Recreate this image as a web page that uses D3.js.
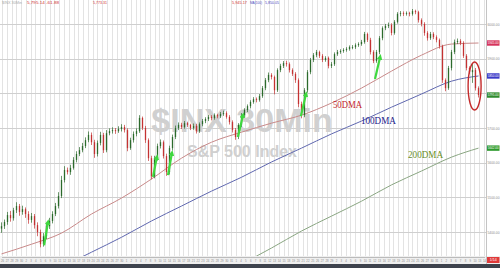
<!DOCTYPE html>
<html lang="en">
<head>
<meta charset="UTF-8">
<title>$INX 30Min</title>
<script src="https://cdn.jsdelivr.net/npm/d3@7"></script>
<style>
  html, body { margin: 0; padding: 0; background: #fff; overflow: hidden; }
  svg { display: block; }
</style>
</head>
<body>
<svg id="chart" width="500" height="268"></svg>
<script>
// condensed 30-min candles, open = previous close
const firstOpen = 5410;
const closes = [
  5417,5429,5449,5440,5463,5475,5458,5466,5452,5435,
  5446,5420,5400,5365,5388,5417,5432,5452,5475,5504,
  5550,5579,5573,5585,5608,5625,5636,5648,5665,5680,
  5659,5625,5657,5680,5636,5685,5691,5694,5691,5697,
  5703,5694,5642,5665,5683,5691,5729,5700,5665,5613,
  5561,5613,5648,5659,5619,5573,5642,5674,5700,5709,
  5703,5714,5709,5700,5706,5691,5711,5720,5726,5732,
  5729,5737,5734,5740,5743,5732,5717,5694,5674,5709,
  5737,5752,5763,5775,5783,5781,5792,5815,5838,5853,
  5847,5809,5867,5879,5887,5884,5867,5856,5838,5769,
  5737,5809,5861,5896,5910,5919,5908,5896,5902,5879,
  5884,5913,5919,5922,5925,5928,5933,5933,5939,5942,
  5948,5971,5954,5919,5893,5919,5959,5988,5994,5997,
  5974,6006,6029,6031,6029,6031,6029,6037,6034,6011,
  6000,5974,5959,5971,5962,5954,5936,5838,5815,5873,
  5919,5948,5951,5945,5908,5873,5861,5867,5815,5795
];
const highs = [
  5428,5436,5458,5461,5470,5486,5481,5476,5471,5460,
  5455,5452,5428,5407,5397,5425,5441,5460,5484,5515,
  5562,5590,5586,5594,5616,5633,5645,5657,5673,5690,
  5687,5666,5664,5689,5686,5694,5699,5702,5700,5705,
  5711,5709,5699,5672,5690,5699,5737,5733,5706,5670,
  5620,5620,5655,5667,5664,5626,5649,5681,5707,5716,
  5715,5720,5718,5712,5713,5712,5716,5726,5731,5738,
  5737,5742,5741,5746,5750,5748,5737,5722,5700,5714,
  5743,5757,5768,5780,5789,5788,5798,5821,5844,5860,
  5858,5851,5872,5885,5893,5894,5889,5872,5861,5843,
  5776,5815,5867,5902,5916,5925,5923,5913,5907,5906,
  5890,5918,5925,5927,5930,5933,5938,5939,5944,5947,
  5954,5977,5975,5960,5924,5925,5965,5993,6000,6004,
  6002,6011,6034,6037,6036,6036,6035,6043,6041,6038,
  6016,6005,5979,5977,5976,5967,5958,5940,5843,5879,
  5925,5955,5958,5956,5950,5913,5878,5885,5873,5820
];
const lows = [
  5398,5409,5421,5430,5433,5455,5447,5450,5441,5424,
  5427,5410,5388,5356,5358,5380,5409,5425,5446,5468,
  5498,5543,5566,5565,5580,5601,5619,5630,5642,5659,
  5651,5614,5618,5650,5628,5630,5679,5684,5683,5686,
  5690,5687,5633,5637,5658,5676,5686,5694,5657,5605,
  5552,5555,5606,5641,5612,5562,5566,5635,5668,5694,
  5697,5698,5703,5694,5695,5684,5686,5705,5714,5720,
  5722,5724,5728,5729,5735,5727,5710,5687,5666,5668,
  5703,5731,5746,5757,5770,5774,5776,5787,5809,5832,
  5840,5797,5804,5861,5873,5877,5860,5850,5830,5760,
  5728,5731,5802,5855,5890,5904,5902,5890,5891,5872,
  5873,5879,5908,5914,5917,5920,5923,5927,5928,5934,
  5937,5943,5948,5912,5887,5888,5913,5953,5982,5988,
  5967,5969,6001,6022,6023,6024,6022,6024,6028,6004,
  5993,5966,5952,5954,5956,5947,5929,5830,5806,5810,
  5866,5913,5942,5939,5902,5866,5855,5830,5808,5788
];

// moving averages sampled at these candle indices
const maIdx = [0,10,20,30,40,50,60,70,80,90,100,110,120,130,140,150,159];
const ma50  = [5337,5365,5397,5452,5498,5553,5613,5659,5688,5714,5737,5772,5815,5864,5910,5942,5945];
const ma100 = [null,null,5299,5342,5385,5432,5475,5518,5558,5602,5642,5683,5720,5760,5798,5835,5850];
const ma200 = [null,null,null,null,null,null,null,null,5308,5354,5403,5446,5489,5536,5576,5616,5642];

const priceTicks = [5400,5500,5600,5700,5800,5900,6000];

// green bounce arrows: [fromIdx, fromPrice, toIdx, toPrice]
const arrows = [
  [14.2,5362,15.5,5429],
  [50.5,5559,51.8,5616],
  [55.5,5564,56.8,5628],
  [78.8,5674,80.5,5737],
  [99.8,5734,101.5,5798],
  [124.5,5841,126.2,5905]
];

const maLabels = [
  { text: '50DMA',  idx: 110.5, price: 5758, color: '#c41e2a', len: 29 },
  { text: '100DMA', idx: 119.8, price: 5711, color: '#1c1c8c', len: 35 },
  { text: '200DMA', idx: 135.5, price: 5613, color: '#6a8f1f', len: 35 }
];

const svg = d3.select('#chart');
const plotR = 486, plotB = 256;

const x = d3.scaleLinear().domain([0, closes.length - 1]).range([1.5, 478.5]);
const y = d3.scaleLinear().domain([5331, 6069]).range([plotB, 0]);

// trading days for the date grid
const days = d3.timeDay.range(new Date(2024, 7, 26), new Date(2025, 0, 15))
  .filter(d => d.getDay() % 6 !== 0);
const xd = d3.scalePoint().domain(days).range([2, 484]);

svg.append('defs').append('clipPath').attr('id', 'plot')
  .append('rect').attr('width', plotR).attr('height', plotB);

// grid
const grid = svg.append('g');
grid.selectAll('line.v').data(days).enter().append('line')
  .attr('x1', d => Math.round(xd(d)) + 0.5).attr('x2', d => Math.round(xd(d)) + 0.5)
  .attr('y1', 0).attr('y2', plotB)
  .attr('stroke', '#e3e3e3').attr('stroke-width', 1);
grid.selectAll('line.h').data(priceTicks).enter().append('line')
  .attr('x1', 0).attr('x2', plotR)
  .attr('y1', d => Math.round(y(d)) + 0.5).attr('y2', d => Math.round(y(d)) + 0.5)
  .attr('stroke', '#cfcfcf').attr('stroke-width', 1);

// watermark
svg.append('text').attr('x', 242).attr('y', 132).attr('text-anchor', 'middle')
  .attr('font-family', 'Liberation Sans, Arial, sans-serif').attr('font-weight', 'bold')
  .attr('font-size', 34).attr('fill', '#d0d0d0').text('$INX 30Min');
svg.append('text').attr('x', 242).attr('y', 157).attr('text-anchor', 'middle')
  .attr('font-family', 'Liberation Sans, Arial, sans-serif').attr('font-weight', 'bold')
  .attr('font-size', 16).attr('fill', '#d0d0d0').text('S&P 500 Index');

const plot = svg.append('g').attr('clip-path', 'url(#plot)');

// moving averages
const maLine = d3.line()
  .defined(d => d[1] != null)
  .x(d => x(d[0])).y(d => y(d[1]))
  .curve(d3.curveMonotoneX);
[[ma50, '#c98a8a'], [ma100, '#6068b0'], [ma200, '#8aa682']].forEach(([vals, col]) => {
  plot.append('path')
    .datum(maIdx.map((i, k) => [i, vals[k]]))
    .attr('d', maLine).attr('fill', 'none')
    .attr('stroke', col).attr('stroke-width', 1);
});

// candles
const candles = closes.map((c, i) => ({
  i, o: i === 0 ? firstOpen : closes[i - 1], c, h: highs[i], l: lows[i]
}));
const color = d => d.c >= d.o ? '#2c6a2c' : '#c43232';
const cg = plot.append('g');
cg.selectAll('line').data(candles).enter().append('line')
  .attr('x1', d => x(d.i)).attr('x2', d => x(d.i))
  .attr('y1', d => y(d.h)).attr('y2', d => y(d.l))
  .attr('stroke', color).attr('stroke-width', 0.7);
cg.selectAll('rect').data(candles).enter().append('rect')
  .attr('x', d => x(d.i) - 0.65).attr('width', 1.3)
  .attr('y', d => y(Math.max(d.o, d.c)))
  .attr('height', d => Math.max(0.8, Math.abs(y(d.o) - y(d.c))))
  .attr('fill', color);

// arrows
svg.append('defs').append('marker').attr('id', 'head')
  .attr('viewBox', '0 0 10 10').attr('refX', 5).attr('refY', 5)
  .attr('markerWidth', 2.6).attr('markerHeight', 2.6).attr('orient', 'auto')
  .append('path').attr('d', 'M0,0 L10,5 L0,10 z').attr('fill', '#3fd83f');
plot.selectAll('line.arrow').data(arrows).enter().append('line')
  .attr('class', 'arrow')
  .attr('x1', d => x(d[0])).attr('y1', d => y(d[1]))
  .attr('x2', d => x(d[2])).attr('y2', d => y(d[3]))
  .attr('stroke', '#3fd83f').attr('stroke-width', 2.2)
  .attr('marker-end', 'url(#head)');

// red ellipse around the latest drop
plot.append('ellipse')
  .attr('cx', x(157.7)).attr('cy', y(5821)).attr('rx', 6.5).attr('ry', 24)
  .attr('fill', 'none').attr('stroke', '#c42a2a').attr('stroke-width', 1.4);

// MA labels
svg.selectAll('text.ma').data(maLabels).enter().append('text')
  .attr('x', d => x(d.idx)).attr('y', d => y(d.price))
  .attr('font-family', 'Liberation Serif, Times New Roman, serif')
  .attr('font-size', 10).attr('fill', d => d.color)
  .attr('textLength', d => d.len).attr('lengthAdjust', 'spacingAndGlyphs')
  .text(d => d.text);

// low marker
svg.append('text').attr('x', x(13) - 6).attr('y', 258.5)
  .attr('font-family', 'Liberation Sans, sans-serif').attr('font-size', 3.6)
  .attr('fill', '#d03030').text(d3.format(',.2f')(d3.min(lows)));

// header line (cut at the top)
const header = [
  { x: 2, t: '$INX 30Min', c: '#aaa', w: 20 },
  { x: 27, t: '5,795.14 -61.88', c: '#d03030', w: 32 },
  { x: 93, t: '5,773.31', c: '#d03030', w: 14 },
  { x: 232, t: '5,945.17', c: '#d03030', w: 15 },
  { x: 250, t: 'MA(100)', c: '#4a4ac0', w: 12 },
  { x: 265, t: '5,850.05', c: '#4a4ac0', w: 14 }
];
svg.selectAll('text.hdr').data(header).enter().append('text')
  .attr('x', d => d.x).attr('y', 3.5)
  .attr('font-family', 'Liberation Sans, sans-serif').attr('font-size', 4)
  .attr('textLength', d => d.w).attr('lengthAdjust', 'spacingAndGlyphs')
  .attr('fill', d => d.c).text(d => d.t);

// bottom date strip
svg.append('rect').attr('x', 0).attr('y', plotB).attr('width', 500).attr('height', 8).attr('fill', '#efefef');
svg.append('g').attr('transform', `translate(0,${plotB + 1})`)
  .call(d3.axisBottom(xd).tickSize(1).tickFormat(d3.timeFormat('%-d')))
  .call(g => g.select('.domain').attr('stroke', '#bbb'))
  .call(g => g.selectAll('line').attr('stroke', '#bbb'))
  .call(g => g.selectAll('text').attr('font-size', 2.8).attr('fill', '#8a8a8a').attr('dy', '0.3em'));
svg.append('rect').attr('x', 0).attr('y', 264).attr('width', 500).attr('height', 4).attr('fill', '#3e434d');

// right axis
svg.append('rect').attr('x', plotR).attr('y', 0).attr('width', 500 - plotR).attr('height', plotB).attr('fill', '#fff');
svg.append('line').attr('x1', plotR + 0.5).attr('x2', plotR + 0.5).attr('y1', 0).attr('y2', 264)
  .attr('stroke', '#c4c4c4');

const badges = [
  { v: ma50[ma50.length - 1], c: '#d6335c' },
  { v: ma100[ma100.length - 1], c: '#3a3ac8' },
  { v: closes[closes.length - 1], c: '#2e8b2e' },
  { v: ma200[ma200.length - 1], c: '#2e9a2e' }
];
const freeTicks = priceTicks.filter(t => badges.every(b => Math.abs(y(t) - y(b.v)) > 5));
svg.append('g').attr('transform', `translate(${plotR + 1},0)`)
  .call(d3.axisRight(y).tickValues(freeTicks).tickSize(0).tickPadding(0.5).tickFormat(d3.format('.2f')))
  .call(g => g.select('.domain').remove())
  .call(g => g.selectAll('text').attr('font-size', 3.6).attr('fill', '#8a8a8a')
    .attr('textLength', 12).attr('lengthAdjust', 'spacingAndGlyphs'));

const bg = svg.selectAll('g.badge').data(badges).enter().append('g')
  .attr('transform', d => `translate(${plotR + 1},${y(d.v)})`);
bg.append('rect').attr('x', 0).attr('y', -2.7).attr('width', 12.5).attr('height', 5.4).attr('fill', d => d.c);
bg.append('text').attr('x', 6.2).attr('y', 1.3).attr('text-anchor', 'middle')
  .attr('font-family', 'Liberation Sans, sans-serif').attr('font-size', 3.4).attr('fill', '#fff')
  .attr('textLength', 11).attr('lengthAdjust', 'spacingAndGlyphs')
  .text(d => d3.format('.2f')(d.v));

// current date badge
svg.append('rect').attr('x', plotR + 1).attr('y', 257).attr('width', 12.5).attr('height', 6).attr('fill', '#e03a3a');
svg.append('text').attr('x', plotR + 7.2).attr('y', 261.4).attr('text-anchor', 'middle')
  .attr('font-family', 'Liberation Sans, sans-serif').attr('font-size', 3.6).attr('fill', '#fff')
  .text(d3.timeFormat('%-m/%-d')(days[days.length - 1]));
</script>
</body>
</html>
